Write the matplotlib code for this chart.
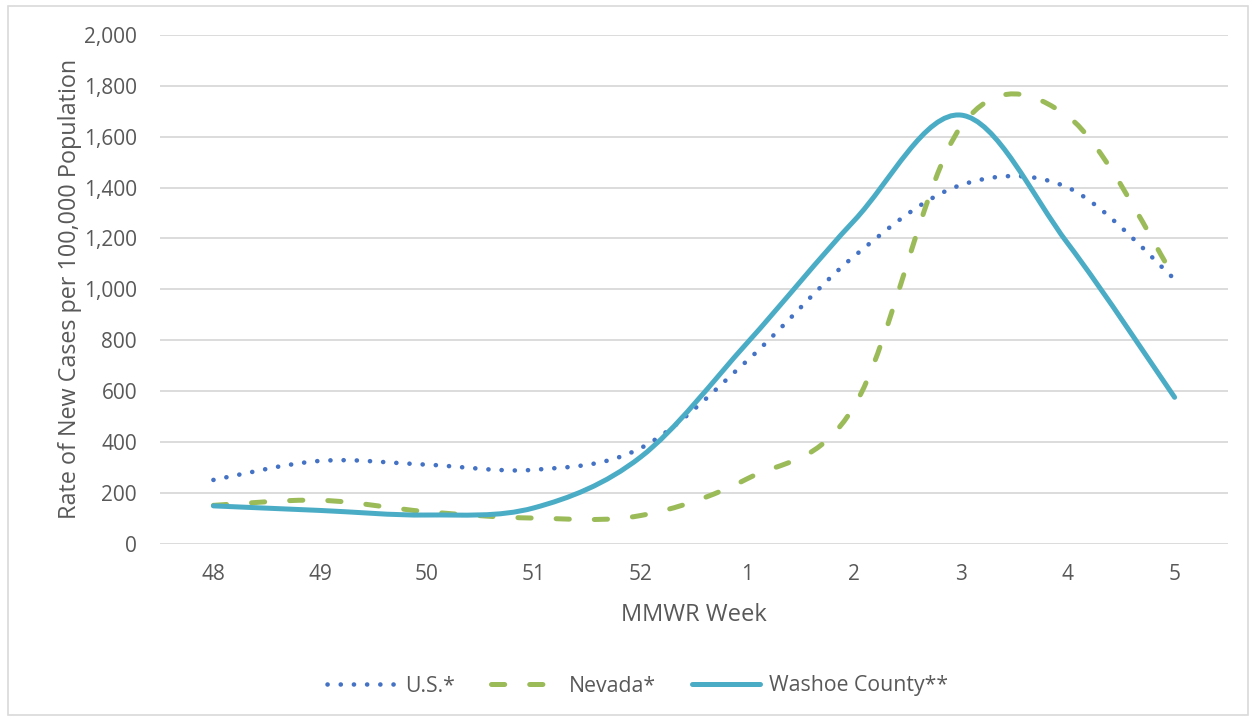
import numpy as np
import matplotlib.pyplot as plt
from matplotlib.path import Path
from matplotlib.patches import PathPatch, Rectangle
from matplotlib.lines import Line2D

plt.rcParams['font.family'] = ['Open Sans', 'DejaVu Sans']
plt.rcParams['lines.scale_dashes'] = False

# MMWR weeks
weeks = ['48', '49', '50', '51', '52', '1', '2', '3', '4', '5']

# rate of new cases per 100,000
us = [250, 325, 310, 290, 375, 720, 1130, 1410, 1400, 1040]
nevada = [150, 170, 125, 100, 110, 255, 540, 1640, 1680, 1045]
washoe = [148, 130, 112, 140, 340, 790, 1270, 1685, 1180, 575]

text_col = '#595959'
grid_col = '#d9d9d9'


def smooth_path(xs, ys):
    # Excel style smoothed line: cubic bezier through every point
    pts = np.column_stack([xs, ys]).astype(float)
    n = len(pts)
    verts = [pts[0]]
    codes = [Path.MOVETO]
    for i in range(n - 1):
        p0 = pts[max(i - 1, 0)]
        p1 = pts[i]
        p2 = pts[i + 1]
        p3 = pts[min(i + 2, n - 1)]
        c1 = p1 + (p2 - p0) / 6
        c2 = p2 - (p3 - p1) / 6
        verts += [c1, c2, p2]
        codes += [Path.CURVE4] * 3
    return Path(verts, codes)


fig = plt.figure(figsize=(12.52, 7.19), dpi=100)
ax = fig.add_axes([160 / 1252, 1 - 543.5 / 719, (1228 - 160) / 1252, (543.5 - 35) / 719])

x = np.arange(len(weeks))

styles = [
    (us, '#4472c4', 3.3, (0, (0.1, 9.4)), 'U.S.*'),
    (nevada, '#9bbb59', 3.6, (0, (9.5, 18)), 'Nevada*'),
    (washoe, '#4bacc6', 3.6, '-', 'Washoe County**'),
]

handles = []
for vals, col, lw, ls, lab in styles:
    p = PathPatch(smooth_path(x, vals), facecolor='none', edgecolor=col,
                  lw=lw, linestyle=ls, capstyle='round', joinstyle='round', zorder=3)
    ax.add_patch(p)
    handles.append(Line2D([], [], color=col, lw=lw, linestyle=ls,
                          dash_capstyle='round', solid_capstyle='round', label=lab))

ax.set_xlim(-0.5, len(weeks) - 0.5)
ax.set_ylim(0, 2000)
ax.set_yticks(range(0, 2001, 200))
ax.set_yticklabels([f'{v:,}' for v in range(0, 2001, 200)])
ax.set_xticks(x)
ax.set_xticklabels(weeks)
ax.tick_params(length=0, labelsize=15, labelcolor=text_col)
ax.tick_params(axis='y', pad=16.5)
ax.tick_params(axis='x', pad=15)
ax.grid(axis='y', color=grid_col, lw=1.3)
ax.set_axisbelow(True)
for s in ax.spines.values():
    s.set_visible(False)

ax.set_ylabel('Rate of New Cases per 100,000 Population', fontsize=16.8, color=text_col, labelpad=1.5)
ax.set_xlabel('MMWR Week', fontsize=17, color=text_col, labelpad=13)

fig.legend(handles=handles, loc='center', bbox_to_anchor=(638 / 1252, 1 - 686 / 719),
           ncol=3, frameon=False, fontsize=15.3, labelcolor=text_col,
           handlelength=3.2, columnspacing=1.7, handletextpad=0.45)

# outer chart border
fig.patches.append(Rectangle((8 / 1252, 4 / 719), 1240 / 1252, 709 / 719,
                             transform=fig.transFigure, fill=False,
                             edgecolor=grid_col, lw=1.2))

fig.savefig('out.png', dpi=100)
